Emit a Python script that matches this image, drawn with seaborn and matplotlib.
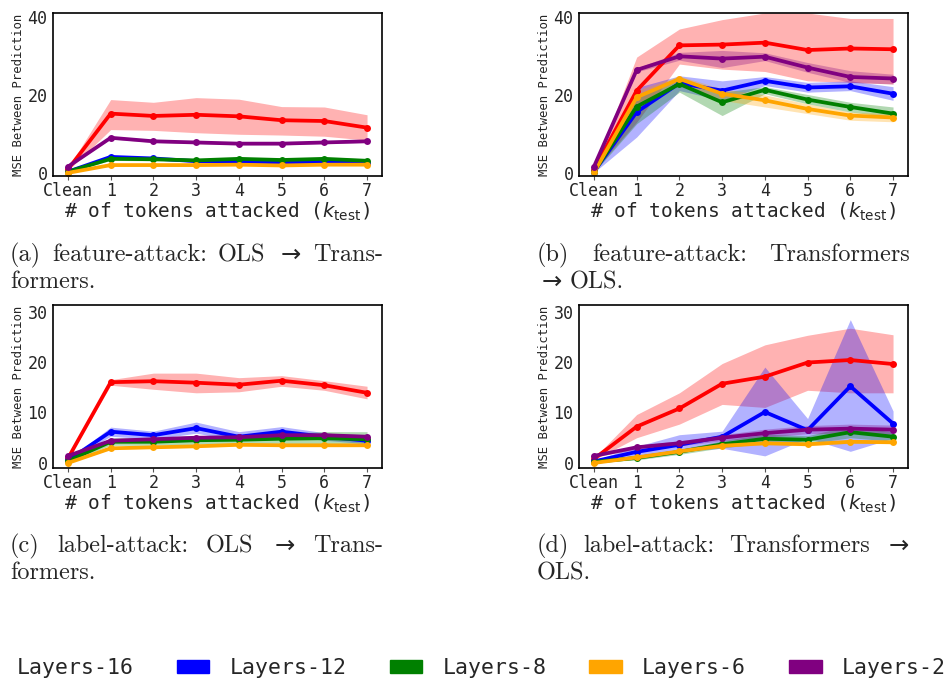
import matplotlib
matplotlib.use("Agg")
import matplotlib.pyplot as plt
import seaborn as sns
from matplotlib.patches import Patch

# x positions / tick labels
x_pos = [0, 1, 2, 3, 4, 5, 6, 7]
x_labels = ["Clean", "1", "2", "3", "4", "5", "6", "7"]

names = ["Layers-16", "Layers-12", "Layers-8", "Layers-6", "Layers-2"]
colors = ["red", "blue", "green", "orange", "purple"]

# (a) feature-attack: OLS -> Transformers  (mean, low, high)
a_mean = [
    [0.9, 15.2, 14.6, 14.9, 14.5, 13.5, 13.3, 11.6],
    [0.3, 4.1, 3.7, 3.0, 2.9, 2.7, 2.8, 2.6],
    [0.3, 3.6, 3.5, 3.2, 3.6, 3.3, 3.6, 3.1],
    [0.0, 2.0, 2.0, 2.0, 2.1, 1.9, 2.1, 2.1],
    [1.6, 9.0, 8.1, 7.8, 7.5, 7.5, 7.8, 8.1],
]
a_low = [
    [0.6, 11.1, 10.9, 10.3, 9.9, 9.7, 9.4, 8.4],
    [0.2, 3.7, 3.4, 2.7, 2.6, 2.4, 2.5, 2.3],
    [0.2, 3.2, 3.1, 2.9, 3.2, 3.0, 3.2, 2.6],
    [0.0, 1.8, 1.8, 1.8, 1.9, 1.7, 1.9, 1.9],
    [1.4, 8.7, 7.8, 7.5, 7.2, 7.2, 7.5, 7.8],
]
a_high = [
    [1.2, 18.8, 18.1, 19.3, 18.9, 17.0, 16.9, 14.9],
    [0.4, 4.5, 4.0, 3.3, 3.2, 3.0, 3.1, 2.9],
    [0.4, 4.0, 3.9, 3.5, 4.0, 3.6, 4.0, 3.6],
    [0.1, 2.2, 2.2, 2.2, 2.3, 2.1, 2.3, 2.3],
    [1.8, 9.3, 8.4, 8.1, 7.8, 7.8, 8.1, 8.4],
]

# (b) feature-attack: Transformers -> OLS
b_mean = [
    [0.8, 21.1, 32.7, 32.9, 33.4, 31.5, 31.9, 31.7],
    [0.3, 15.6, 23.0, 21.1, 23.6, 21.9, 22.2, 20.3],
    [0.3, 17.0, 22.8, 18.1, 21.3, 18.8, 16.9, 15.2],
    [0.1, 19.4, 24.1, 20.3, 18.6, 16.4, 14.7, 14.2],
    [1.6, 26.4, 29.9, 29.3, 29.8, 27.0, 24.6, 24.2],
]
b_low = [
    [0.5, 13.0, 27.9, 26.6, 26.0, 23.6, 23.2, 22.8],
    [0.1, 9.2, 21.1, 18.6, 22.4, 20.7, 21.1, 18.6],
    [0.1, 12.6, 20.7, 14.7, 20.3, 17.7, 15.6, 14.3],
    [0.0, 17.7, 23.2, 18.6, 16.9, 15.2, 13.5, 13.1],
    [1.3, 25.9, 28.9, 27.0, 28.8, 25.8, 23.2, 22.8],
]
b_high = [
    [1.1, 29.7, 36.9, 39.3, 41.0, 41.0, 39.6, 39.6],
    [0.5, 21.9, 24.9, 23.6, 24.7, 23.2, 23.6, 22.1],
    [0.5, 19.4, 24.0, 20.7, 22.1, 20.1, 18.1, 16.9],
    [0.2, 21.1, 24.9, 21.5, 20.0, 17.7, 15.6, 15.2],
    [1.9, 26.9, 30.9, 31.4, 30.8, 28.3, 26.2, 25.3],
]

# (c) label-attack: OLS -> Transformers
c_mean = [
    [0.9, 16.0, 16.2, 15.9, 15.5, 16.3, 15.4, 13.9],
    [0.5, 6.2, 5.5, 6.9, 5.2, 6.2, 5.2, 4.4],
    [0.4, 4.2, 4.2, 4.5, 4.6, 4.8, 4.9, 4.7],
    [0.0, 2.9, 3.1, 3.3, 3.6, 3.5, 3.5, 3.5],
    [1.4, 4.4, 4.7, 5.0, 5.1, 5.5, 5.5, 5.2],
]
c_low = [
    [0.7, 15.4, 14.6, 13.9, 14.1, 15.2, 14.4, 12.7],
    [0.3, 5.3, 4.7, 5.9, 4.4, 5.4, 4.5, 3.8],
    [0.2, 3.5, 3.5, 3.7, 3.8, 3.9, 3.7, 3.3],
    [0.0, 2.7, 2.9, 3.1, 3.4, 3.3, 3.3, 3.3],
    [1.2, 4.0, 4.3, 4.6, 4.7, 5.1, 5.1, 4.8],
]
c_high = [
    [1.1, 16.5, 17.8, 17.8, 16.9, 17.3, 16.3, 15.2],
    [0.7, 7.1, 6.3, 8.1, 6.2, 7.2, 6.0, 5.1],
    [0.6, 5.0, 5.0, 5.4, 5.6, 5.9, 6.2, 6.2],
    [0.1, 3.1, 3.3, 3.5, 3.8, 3.7, 3.7, 3.7],
    [1.6, 4.8, 5.1, 5.4, 5.5, 5.9, 5.9, 5.6],
]

# (d) label-attack: Transformers -> OLS
d_mean = [
    [0.8, 7.2, 10.8, 15.7, 17.1, 19.9, 20.4, 19.6],
    [0.3, 2.2, 3.6, 5.2, 10.1, 6.5, 15.2, 7.8],
    [0.2, 1.0, 2.2, 3.7, 4.8, 4.6, 6.1, 5.2],
    [0.0, 1.1, 2.3, 3.4, 3.9, 3.7, 4.2, 4.1],
    [1.4, 3.1, 3.9, 5.0, 5.9, 6.6, 6.8, 6.6],
]
d_low = [
    [0.6, 5.0, 7.7, 11.6, 11.0, 14.4, 13.9, 13.9],
    [0.1, 1.0, 2.3, 2.9, 1.4, 4.9, 2.3, 4.9],
    [0.1, 0.6, 1.7, 3.0, 3.9, 3.8, 5.0, 4.3],
    [0.0, 0.9, 2.0, 3.1, 3.6, 3.4, 3.9, 3.8],
    [1.2, 2.7, 3.4, 4.4, 5.1, 5.8, 5.9, 5.7],
]
d_high = [
    [1.0, 9.6, 13.9, 19.7, 23.4, 25.3, 26.7, 25.4],
    [0.5, 3.3, 5.6, 6.3, 19.0, 8.8, 28.4, 10.3],
    [0.3, 1.4, 2.7, 4.4, 5.7, 5.4, 7.4, 6.1],
    [0.1, 1.3, 2.6, 3.7, 4.2, 4.0, 4.5, 4.4],
    [1.6, 3.5, 4.4, 5.6, 6.7, 7.4, 7.7, 7.5],
]

a_caption = [["(a)", "feature-attack:", "OLS", r"$\rightarrow$", "Trans-"], ["formers."]]
b_caption = [["(b)", "feature-attack:", "Transformers"], [r"$\rightarrow$", "OLS."]]
c_caption = [["(c)", "label-attack:", "OLS", r"$\rightarrow$", "Trans-"], ["formers."]]
d_caption = [["(d)", "label-attack:", "Transformers", r"$\rightarrow$"], ["OLS."]]

sns.set_style("white")
plt.rcParams["font.family"] = ["DejaVu Sans Mono"]
plt.rcParams["mathtext.fontset"] = "dejavusans"

W, H = 948, 686
fig = plt.figure(figsize=(W / 100, H / 100), dpi=100)


def draw_panel(left, top, ylim, yticks, mean, low, high):
    ax = fig.add_axes([left / W, 1 - (top + 163) / H, 329 / W, 163 / H])
    for i in range(len(names)):
        ax.fill_between(x_pos, low[i], high[i], color=colors[i], alpha=0.3, lw=0)
        sns.lineplot(x=x_pos, y=mean[i], ax=ax, color=colors[i], lw=2.7,
                     marker="o", markersize=5, markeredgewidth=0)
    ax.set_xlim(-0.35, 7.35)
    ax.set_ylim(*ylim)
    ax.set_xticks(x_pos)
    ax.set_xticklabels(x_labels, fontsize=12)
    ax.set_yticks(yticks)
    ax.set_yticklabels([str(t) for t in yticks], fontsize=12)
    ax.tick_params(axis="both", length=3, width=0.8, pad=1, color="#555555")
    ax.tick_params(axis="x", bottom=True)
    ax.tick_params(axis="y", left=False, pad=1)
    ax.set_ylabel("MSE Between Prediction", fontsize=8.8)
    ax.yaxis.set_label_coords(-0.085, 0.5)
    ax.set_xlabel(r"# of tokens attacked ($k_{\mathrm{test}}$)", fontsize=14, labelpad=1)
    for s in ax.spines.values():
        s.set_color("black")
        s.set_linewidth(1.2)
    return ax


draw_panel(53, 13, (-0.8, 41), [0, 20, 40], a_mean, a_low, a_high)
draw_panel(579, 13, (-0.8, 41), [0, 20, 40], b_mean, b_low, b_high)
draw_panel(53, 305, (-1.0, 31.3), [0, 10, 20, 30], c_mean, c_low, c_high)
draw_panel(579, 305, (-1.0, 31.3), [0, 10, 20, 30], d_mean, d_low, d_high)

renderer = fig.canvas.get_renderer()


def caption_line(x0, x1, y, words, justify):
    cap_font = dict(family="cmr10", fontsize=17.5, va="center", ha="left")
    texts = [fig.text(x0 / W, 1 - y / H, w, **cap_font) for w in words]
    widths = [t.get_window_extent(renderer).width for t in texts]
    if justify and len(words) > 1:
        gap = (x1 - x0 - sum(widths)) / (len(words) - 1)
    else:
        gap = 7
    x = x0
    for t, w in zip(texts, widths):
        t.set_x(x / W)
        x += w + gap


def caption(x0, x1, y, lines):
    caption_line(x0, x1, y, lines[0], True)
    caption_line(x0, x1, y + 27, lines[1], False)


caption(10, 383, 255, a_caption)
caption(537, 910, 255, b_caption)
caption(10, 383, 546, c_caption)
caption(537, 910, 546, d_caption)

handles = [Patch(color=c) for c in colors]
fig.legend(handles, names, loc="center", bbox_to_anchor=(455 / W, 1 - 668 / H),
           ncol=5, frameon=False, fontsize=15.5, handlelength=1.5, handleheight=0.55,
           handletextpad=0.95, columnspacing=2.0, borderpad=0)

fig.savefig("out.png", dpi=100)
